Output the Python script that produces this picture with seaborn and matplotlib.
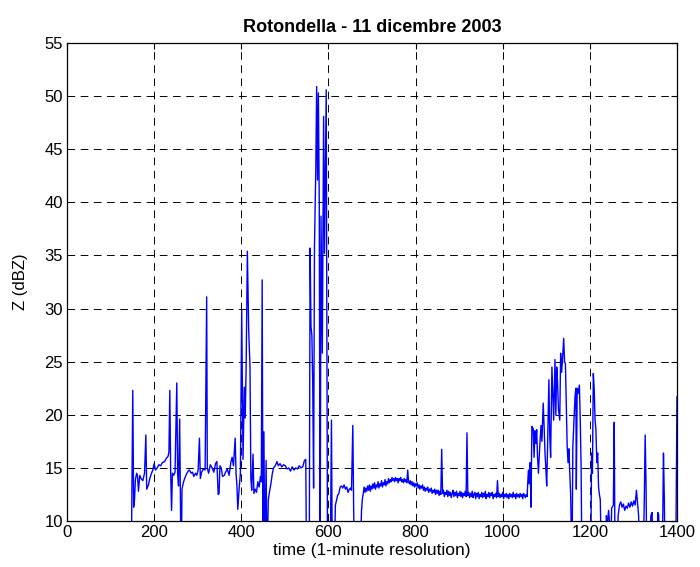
import matplotlib
matplotlib.use("Agg")
import matplotlib.pyplot as plt
import seaborn as sns
import pandas as pd

# ---- data (minute of day, reflectivity dBZ) ----
# values of 5 stand for readings below the 10 dBZ axis floor
minutes_a = [140, 146, 148, 151, 153, 155, 157, 160, 162, 164, 167, 170, 174, 178, 181, 183, 187, 190, 194, 197,
             200, 203, 207, 211, 215, 219, 224, 228, 232, 234, 236, 238, 240, 242, 245, 248, 252, 254, 256, 258.6,
             262, 264, 267, 270, 274, 278, 281, 285, 288, 291, 295, 298, 301, 304, 306, 309, 313, 317, 320.6, 322,
             325, 329, 333, 337, 341, 344, 347, 349, 351, 354, 357, 361, 364, 368, 372, 376, 379, 382, 386, 388,
             390, 392, 395, 398, 401, 404, 407, 409, 411, 414, 417, 420, 422, 424, 427, 429, 432, 435, 438, 441,
             444, 446, 448, 450, 452, 454, 457, 459, 462, 465, 468, 471, 474, 478, 482, 485, 489, 493, 497, 501,
             505, 509, 513, 517, 521, 525, 529, 533, 537, 541, 545, 548]
dbz_a = [5, 5, 8, 22.3, 11.3, 12.0, 13.9, 14.5, 14.2, 12.8, 14.3, 14.0, 13.8, 14.5, 18.1, 13.0, 13.4, 14.0, 14.5, 14.8,
         15.4, 14.8, 15.0, 15.3, 15.2, 15.5, 15.6, 15.9, 16.1, 16.5, 22.3, 14.5, 11.0, 14.5, 14.3, 14.6, 23.0, 14.4, 13.3, 19.6,
         5, 13.0, 13.6, 14.0, 14.4, 14.7, 14.8, 14.5, 14.6, 14.2, 14.5, 14.3, 14.8, 17.8, 14.0, 14.6, 14.9, 14.8, 31.1, 15.0,
         14.5, 15.3, 15.0, 14.6, 15.4, 15.6, 12.5, 12.6, 15.2, 15.0, 14.2, 14.3, 14.6, 14.9, 14.3, 15.5, 16.0, 15.2, 17.8, 14.5,
         13.4, 11.1, 13.0, 14.5, 29.9, 15.8, 22.6, 19.7, 24.0, 35.4, 28.0, 24.5, 14.0, 12.9, 16.3, 12.6, 13.0, 12.7, 13.7, 13.2,
         14.2, 13.7, 32.7, 5, 18.4, 5, 15.7, 5, 12.0, 12.8, 13.5, 14.4, 15.0, 15.2, 15.6, 15.2, 15.4, 15.1, 15.3, 15.2,
         14.9, 15.0, 14.7, 15.1, 14.8, 15.0, 14.9, 15.2, 15.0, 15.1, 15.7, 15.8]

minutes_b = [550, 556, 558, 560, 562, 564, 566, 568, 571, 573, 575, 577, 579, 581, 583, 586, 589, 591, 595, 598,
             604, 607, 609, 613, 616, 619, 621, 624, 627, 630, 633, 636, 639, 642, 645, 648, 651, 653, 656, 658,
             660, 672]
dbz_b = [5, 5, 35.7, 28.3, 27.5, 23.0, 13.1, 35.8, 43.0, 50.9, 42.1, 50.3, 39.9, 5, 38.7, 25.8, 48.1, 35.2, 50.6, 5,
         5, 19.5, 5, 5, 11.5, 12.0, 12.4, 12.6, 13.2, 13.3, 13.1, 13.4, 13.0, 13.2, 12.7, 13.0, 13.1, 12.9, 19.0, 11.0,
         5, 5]

# quiet stretch, one reading every 2 minutes from minute 676 to 1056
minutes_flat = list(range(676, 1057, 2))
dbz_flat = [11.0, 12.1, 12.6, 13.2, 12.7, 13.1, 12.8, 13.3, 12.9, 13.4,
            12.8, 13.3, 13.0, 13.5, 13.1, 13.6, 13.0, 13.4, 13.2, 13.7,
            13.1, 13.5, 13.3, 13.8, 13.2, 13.6, 13.4, 13.9, 13.3, 13.7,
            13.5, 14.0, 13.6, 13.9, 13.7, 14.1, 13.8, 14.0, 13.7, 14.1,
            13.8, 14.0, 13.6, 14.0, 13.8, 14.1, 13.7, 13.9, 13.6, 14.0,
            13.7, 13.9, 13.6, 14.8, 13.7, 13.5, 13.8, 13.4, 13.7, 13.3,
            13.6, 13.2, 13.5, 13.3, 13.6, 13.1, 13.4, 13.0, 13.3, 13.1,
            13.4, 12.9, 13.2, 12.8, 13.1, 12.9, 13.2, 12.7, 13.0, 12.8,
            13.1, 12.6, 12.9, 12.7, 13.0, 12.5, 12.9, 12.6, 12.9, 12.4,
            12.8, 12.5, 16.75, 12.6, 12.9, 12.3, 12.7, 12.5, 12.9, 12.3,
            12.8, 12.4, 12.7, 12.2, 12.6, 12.9, 12.3, 12.7, 12.4, 12.8,
            12.2, 12.6, 12.4, 12.8, 12.3, 12.7, 12.2, 12.6, 12.4, 12.8,
            12.3, 18.3, 12.4, 12.7, 12.2, 12.6, 12.3, 12.8, 12.2, 12.5,
            12.7, 12.1, 12.6, 12.3, 12.7, 12.1, 12.5, 12.3, 12.7, 12.2,
            12.6, 12.3, 12.8, 12.1, 12.5, 12.3, 12.7, 12.2, 12.6, 12.4,
            12.7, 12.1, 12.5, 12.3, 12.6, 12.2, 13.8, 12.3, 12.6, 12.2,
            12.5, 12.3, 12.7, 12.1, 12.5, 12.3, 12.6, 12.2, 12.5, 12.1,
            12.6, 12.3, 12.5, 12.2, 12.7, 12.3, 12.5, 12.1, 12.6, 12.3,
            12.5, 12.2, 12.6, 12.3, 12.5, 12.1, 12.6, 12.4, 12.2, 12.5,
            12.3]

minutes_c = [1059, 1061, 1063, 1065, 1067, 1070, 1072, 1074, 1076, 1078, 1080, 1082, 1085, 1088, 1090, 1093, 1095, 1097, 1099, 1101,
             1103, 1106, 1108, 1110, 1113, 1115, 1117, 1120, 1122, 1124, 1126, 1128, 1131, 1133, 1135, 1137, 1140, 1142, 1144, 1146,
             1148, 1150, 1152, 1154, 1156, 1159, 1161, 1163, 1166, 1168, 1169, 1171, 1173, 1176, 1178, 1180, 1182, 1202, 1204, 1206,
             1208, 1210, 1212, 1214, 1216, 1218, 1220, 1222, 1224, 1227, 1235, 1238, 1240, 1243, 1245, 1247, 1250, 1254, 1256, 1258,
             1262, 1265, 1268, 1271, 1274, 1277, 1280, 1283, 1286, 1289, 1292, 1295, 1298, 1301, 1304, 1307, 1310, 1312, 1315, 1322,
             1325, 1327, 1329, 1331, 1338, 1340, 1343, 1345, 1353, 1356, 1358, 1360, 1366, 1369, 1371, 1373, 1397, 1400]
dbz_c = [14.8, 13.5, 15.5, 11.3, 18.9, 18.7, 16.0, 18.5, 17.3, 18.6, 16.0, 14.5, 17.0, 19.0, 17.5, 21.1, 19.0, 16.5, 15.0, 13.3,
         17.0, 23.3, 18.0, 16.0, 24.5, 22.0, 19.5, 25.2, 20.0, 24.5, 23.0, 20.5, 19.5, 25.8, 24.0, 25.0, 27.2, 25.0, 24.8, 21.0,
         17.0, 15.5, 16.8, 14.5, 12.5, 5, 17.0, 18.9, 21.7, 22.5, 13.0, 22.5, 22.0, 22.8, 19.5, 15.0, 5, 5, 16.4, 14.5,
         23.9, 22.5, 19.5, 18.6, 15.5, 16.4, 13.2, 12.5, 12.0, 5, 5, 10.5, 9.5, 11.0, 10.0, 5, 11.2, 11.5, 19.3, 5,
         5, 10.5, 11.5, 11.8, 11.3, 11.6, 11.0, 11.4, 11.2, 11.7, 11.3, 11.8, 11.4, 11.9, 11.5, 12.9, 11.4, 10.5, 5, 5,
         12.0, 18.1, 13.5, 5, 5, 10.5, 10.8, 5, 5, 10.8, 10.6, 5, 5, 16.4, 12.0, 5, 5, 21.7]

x_ticks = [0, 200, 400, 600, 800, 1000, 1200, 1400]
y_ticks = [10, 15, 20, 25, 30, 35, 40, 45, 50, 55]
title_text = "Rotondella - 11 dicembre 2003"
x_label = "time (1-minute resolution)"
y_label = "Z (dBZ)"

df = pd.DataFrame({"minute": minutes_a + minutes_b + minutes_flat + minutes_c,
                   "dbz": dbz_a + dbz_b + dbz_flat + dbz_c})

sns.set_theme(style="white")
plt.rcParams["font.family"] = ["Liberation Sans", "DejaVu Sans"]
plt.rcParams["lines.scale_dashes"] = False
plt.rcParams["text.color"] = "black"
plt.rcParams["axes.labelcolor"] = "black"

fig = plt.figure(figsize=(7.0, 5.67), dpi=100)
ax = fig.add_axes([0.0957, 0.0811, 0.8714, 0.8430])

sns.lineplot(data=df, x="minute", y="dbz", estimator=None, sort=False,
             color="#0000ff", linewidth=1.0, ax=ax)

ax.set_xlim(0, 1400)
ax.set_ylim(10, 55)
ax.set_xticks(x_ticks)
ax.set_yticks(y_ticks)
ax.tick_params(direction="in", length=4, width=0.8, top=True, right=True,
               labelsize=12, colors="black", pad=3)
ax.grid(True, color="black", linestyle=(0, (5.5, 4)), linewidth=0.7)
for s in ax.spines.values():
    s.set_color("black")
    s.set_linewidth(0.9)
ax.set_facecolor("white")
ax.set_title(title_text, fontsize=13, fontweight="bold", pad=8, color="black")
ax.set_xlabel(x_label, fontsize=12.5, labelpad=2, color="black")
ax.set_ylabel(y_label, fontsize=12, labelpad=12, color="black")

fig.savefig("out.png", dpi=100, facecolor="white")
